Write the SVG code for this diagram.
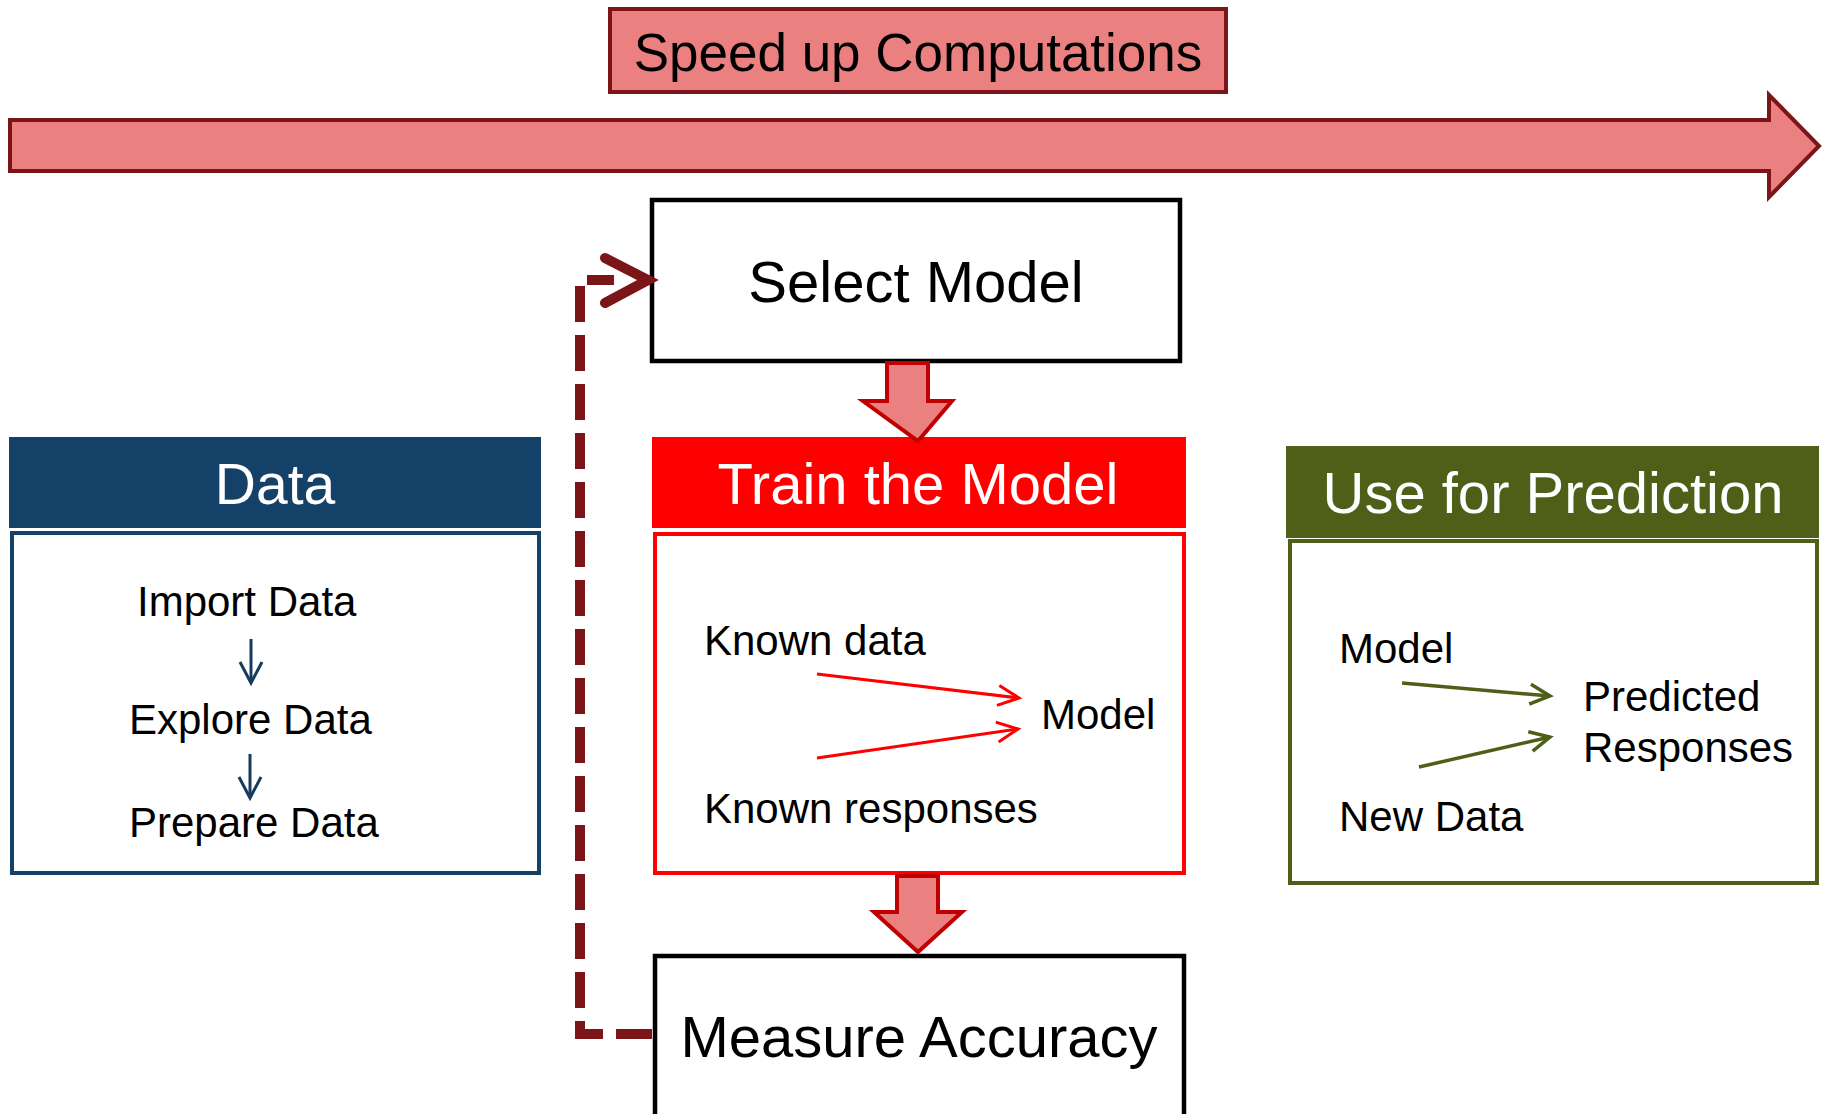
<svg xmlns="http://www.w3.org/2000/svg" width="1825" height="1114" viewBox="0 0 1825 1114">
<style>
text{font-family:"Liberation Sans",Arial,sans-serif;fill:#000}
.wt{fill:#fff}
.big{font-size:58px}
.med{font-size:42px}
.salmon{fill:#ea8080;stroke:#7b1517;stroke-width:4}
.down{fill:#ea8080;stroke:#c00000;stroke-width:4}
</style>
<defs>
<marker id="mRed" markerUnits="userSpaceOnUse" viewBox="-24 -14 28 28" refX="0" refY="0" markerWidth="28" markerHeight="28" orient="auto" overflow="visible">
<path d="M-21,-10 L0,0 L-21,10" fill="none" stroke="#ff0000" stroke-width="3"/>
</marker>
<marker id="mNavy" markerUnits="userSpaceOnUse" viewBox="-24 -14 28 28" refX="0" refY="0" markerWidth="28" markerHeight="28" orient="auto" overflow="visible">
<path d="M-21,-11 L0,0 L-21,11" fill="none" stroke="#163b5c" stroke-width="3"/>
</marker>
<marker id="mOlive" markerUnits="userSpaceOnUse" viewBox="-24 -14 28 28" refX="0" refY="0" markerWidth="28" markerHeight="28" orient="auto" overflow="visible">
<path d="M-20,-10 L0,0 L-20,10" fill="none" stroke="#4f5f17" stroke-width="3.5"/>
</marker>
</defs>
<rect width="1825" height="1114" fill="#fff"/>

<g id="speedup">
<rect class="salmon" x="610" y="9" width="616" height="83"/>
<text x="918" y="71" text-anchor="middle" font-size="53">Speed up Computations</text>
</g>

<g id="timeline-arrow">
<polygon class="salmon" points="10,120 1769,120 1769,95 1819,146 1769,197 1769,171 10,171"/>
</g>

<g id="select-model">
<rect x="652" y="200" width="528" height="161" fill="#fff" stroke="#000" stroke-width="4.5"/>
<text class="big" x="916" y="302" text-anchor="middle">Select Model</text>
</g>

<g id="train-model">
<rect x="652" y="437" width="534" height="91" fill="#ff0000"/>
<text class="big wt" x="918" y="504" text-anchor="middle">Train the Model</text>
<rect x="655" y="534" width="529" height="339" fill="#fff" stroke="#ff0000" stroke-width="4"/>
<text class="med" x="704" y="655">Known data</text>
<text class="med" x="1041" y="729">Model</text>
<text class="med" x="704" y="823">Known responses</text>
<line x1="817" y1="674" x2="1019" y2="698" stroke="#ff0000" stroke-width="3" marker-end="url(#mRed)"/>
<line x1="817" y1="758" x2="1018" y2="729" stroke="#ff0000" stroke-width="3" marker-end="url(#mRed)"/>
</g>

<g id="measure-accuracy">
<rect x="655" y="956" width="529" height="200" fill="#fff" stroke="#000" stroke-width="4.5"/>
<text x="919" y="1057" text-anchor="middle" font-size="58">Measure Accuracy</text>
</g>

<g id="data">
<rect x="9" y="437" width="532" height="91" fill="#134167"/>
<text class="wt" x="275" y="504" text-anchor="middle" font-size="57">Data</text>
<rect x="12" y="533" width="527" height="340" fill="#fff" stroke="#134167" stroke-width="4"/>
<text class="med" x="137" y="616">Import Data</text>
<text class="med" x="129" y="734">Explore Data</text>
<text class="med" x="129" y="837">Prepare Data</text>
<line x1="251" y1="639" x2="251" y2="683" stroke="#163b5c" stroke-width="3" marker-end="url(#mNavy)"/>
<line x1="250" y1="754" x2="250" y2="798" stroke="#163b5c" stroke-width="3" marker-end="url(#mNavy)"/>
</g>

<g id="prediction">
<rect x="1286" y="446" width="533" height="92" fill="#4f5f17"/>
<text class="wt" x="1553" y="513" text-anchor="middle" font-size="58">Use for Prediction</text>
<rect x="1290" y="541" width="527" height="342" fill="#fff" stroke="#4f5f17" stroke-width="4"/>
<text class="med" x="1339" y="663">Model</text>
<text class="med" x="1583" y="711">Predicted</text>
<text class="med" x="1583" y="762">Responses</text>
<text class="med" x="1339" y="831">New Data</text>
<line x1="1402" y1="683" x2="1550" y2="696" stroke="#4f5f17" stroke-width="3.5" marker-end="url(#mOlive)"/>
<line x1="1419" y1="767" x2="1550" y2="737" stroke="#4f5f17" stroke-width="3.5" marker-end="url(#mOlive)"/>
</g>

<g id="connectors">
<polygon class="down" points="887,363 928,363 928,401 952,401 918,441 863,401 887,401"/>
<polygon class="down" points="897,876 938,876 938,912 962,912 918,952 874,912 897,912"/>
<path d="M652,1034 H580 V280 H614" fill="none" stroke="#7b1517" stroke-width="10" stroke-dasharray="36 13"/>
<polyline points="605,258 648,280 605,303" fill="none" stroke="#7b1517" stroke-width="10" stroke-linecap="round" stroke-linejoin="miter"/>
</g>
</svg>
